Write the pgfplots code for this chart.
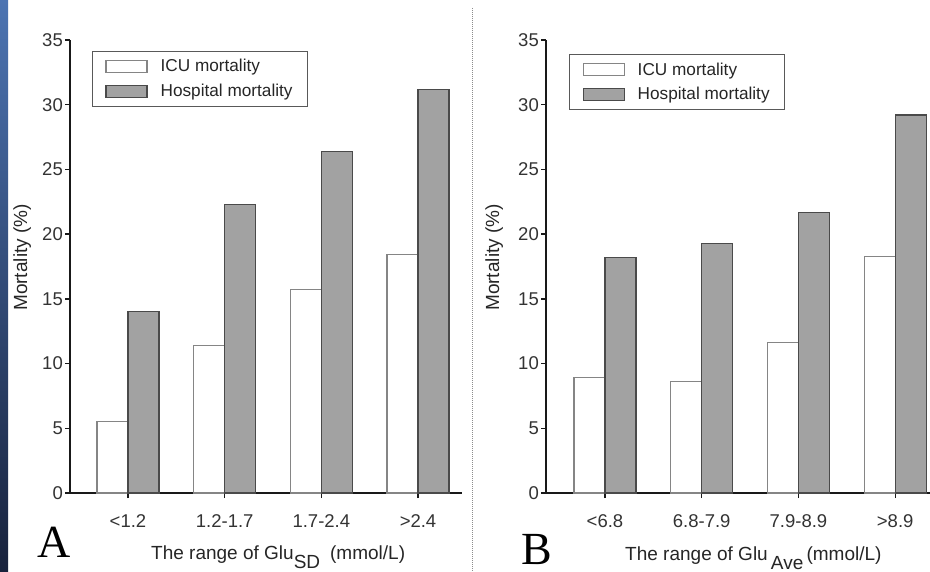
\documentclass[border=0pt]{standalone}
\usepackage{pgfplots}
\pgfplotsset{compat=1.18}
\usepackage{fontspec}
\setmainfont{Liberation Sans}
\newfontfamily\serifA{Liberation Serif}
\definecolor{hospfill}{HTML}{A2A2A2}
\definecolor{hospline}{HTML}{4A4A4A}
\definecolor{iculine}{HTML}{858585}
\definecolor{stripTop}{HTML}{4C74B2}
\definecolor{stripBot}{HTML}{18223C}
\pgfplotsset{
  panel/.style={
    scale only axis,
    height=453pt,
    ymin=0, ymax=35,
    ytick={0,5,...,35},
    axis x line=bottom,
    axis y line=left,
    axis line style={-, line width=1.5pt, black!90},
    tick style={line width=1.3pt, black!90},
    tick align=outside,
    major tick length=5pt,
    xtick={0,1,2,3},
    ybar=0pt,
    bar width=31pt,
    /pgf/number format/assume math mode=true,
    ticklabel style={font=\fontsize{18.5pt}{21pt}\selectfont, text=black!80},
    yticklabel style={inner sep=2pt},
    xticklabel style={yshift=-13pt},
    label style={font=\fontsize{19pt}{22pt}\selectfont, text=black!85},
    legend cell align=left,
    legend image code/.code={\draw[#1] (0pt,-6pt) rectangle (41pt,6pt);},
    legend style={draw=black!65, line width=1pt, fill=white,
      font=\fontsize{17.2pt}{20pt}\selectfont, text=black!85,
      anchor=north west, inner xsep=13pt, inner ysep=6pt, row sep=7pt,
      /tikz/every odd column/.append style={column sep=11pt}},
  },
  icu/.style={fill=white, draw=iculine, line width=1.2pt},
  hosp/.style={fill=hospfill, draw=hospline, line width=1.2pt},
}
\begin{document}
\begin{tikzpicture}
\useasboundingbox (0,0) rectangle (930pt,-572pt);
\fill[white] (0,0) rectangle (930pt,-572pt);
\shade[top color=stripTop, bottom color=stripBot] (0,0) rectangle (8pt,-572pt);
\draw[black!45, densely dotted, line width=1pt] (472pt,-8pt) -- (472pt,-572pt);

% Panel A
\begin{axis}[panel,
  at={(70pt,-493pt)}, anchor=south west,
  width=392pt,
  xmin=-0.6, xmax=3.455,
  xticklabels={<1.2, 1.2-1.7, 1.7-2.4, >2.4},
  xlabel={The range of Glu\raisebox{-9pt}{SD}\hspace{10pt}(mmol/L)},
  xlabel style={at={(axis description cs:0.531,-0.146)}, anchor=base},
  ylabel={Mortality (\%)},
  ylabel style={at={(axis description cs:-0.122,0.52)}, anchor=center},
  legend style={at={(0.056,0.976)}},
]
\addplot[icu] coordinates {(0,5.5) (1,11.4) (2,15.7) (3,18.4)};
\addplot[hosp] coordinates {(0,14.0) (1,22.3) (2,26.4) (3,31.2)};
\legend{ICU mortality, Hospital mortality\hspace{4pt}}
\end{axis}

% Panel B
\begin{axis}[panel,
  at={(546pt,-493pt)}, anchor=south west,
  width=384pt,
  xmin=-0.61, xmax=3.36,
  xticklabels={<6.8, 6.8-7.9, 7.9-8.9, >8.9},
  xlabel={The range of Glu\,\raisebox{-9pt}{Ave}\,(mmol/L)},
  xlabel style={at={(axis description cs:0.540,-0.148)}, anchor=base},
  ylabel={Mortality (\%)},
  ylabel style={at={(axis description cs:-0.135,0.52)}, anchor=center},
  legend style={at={(0.06,0.969)}},
]
\addplot[icu] coordinates {(0,8.9) (1,8.6) (2,11.6) (3,18.3)};
\addplot[hosp] coordinates {(0,18.2) (1,19.3) (2,21.7) (3,29.2)};
\legend{ICU mortality, Hospital mortality\hspace{4pt}}
\end{axis}

\node[anchor=base west, inner sep=0pt, font=\serifA\fontsize{46pt}{50pt}\selectfont] at (37pt,-557pt) {A};
\node[anchor=base west, inner sep=0pt, font=\serifA\fontsize{46pt}{50pt}\selectfont] at (521pt,-564pt) {B};
\end{tikzpicture}
\end{document}
